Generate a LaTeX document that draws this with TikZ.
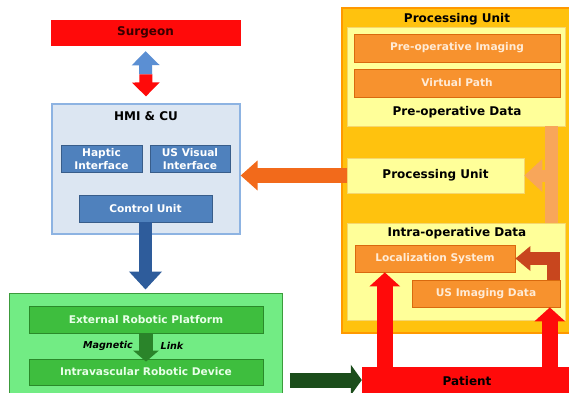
\documentclass[tikz,border=0pt]{standalone}
\usepackage{fontspec}
\setmainfont{DejaVu Sans}
\usetikzlibrary{arrows.meta,calc}
\definecolor{cRed}{HTML}{FF0A0A}
\definecolor{cDarkRed}{HTML}{3A0000}
\definecolor{cBlueLight}{HTML}{5B8FD3}
\definecolor{cHmiFill}{HTML}{DCE6F2}
\definecolor{cHmiDraw}{HTML}{8DB3E2}
\definecolor{cBlueBox}{HTML}{4F81BD}
\definecolor{cBlueBoxDraw}{HTML}{385D8A}
\definecolor{cDarkBlue}{HTML}{2E5C9B}
\definecolor{cGreenOuter}{HTML}{72EC84}
\definecolor{cGreenOuterDraw}{HTML}{3C9B3C}
\definecolor{cGreenBox}{HTML}{3EBE3E}
\definecolor{cGreenBoxDraw}{HTML}{2A8A2A}
\definecolor{cGreenText}{HTML}{E8FFE8}
\definecolor{cMagArrow}{HTML}{2A842A}
\definecolor{cDarkGreen}{HTML}{1B4D1B}
\definecolor{cOrangeOuter}{HTML}{FFC20E}
\definecolor{cOrangeOuterDraw}{HTML}{FF9900}
\definecolor{cYellow}{HTML}{FFFF99}
\definecolor{cYellowDraw}{HTML}{F5D76E}
\definecolor{cOrangeBox}{HTML}{F7922E}
\definecolor{cOrangeBoxDraw}{HTML}{D9690E}
\definecolor{cOrangeText}{HTML}{FFEBD6}
\definecolor{cOrangeArrow}{HTML}{F26A1B}
\definecolor{cLightOrange}{HTML}{F8A65A}
\definecolor{cElbow}{HTML}{C8461E}
\tikzset{
  titlefont/.style={font=\bfseries\fontsize{12}{14}\selectfont},
  boxfont/.style={font=\bfseries\fontsize{10.6}{13.5}\selectfont},
  plainbox/.style={rectangle, inner sep=0pt, align=center},
  redbox/.style={plainbox, draw=cRed, fill=cRed, text=cDarkRed, titlefont},
  hmibox/.style={plainbox, draw=cHmiDraw, line width=1.2pt, fill=cHmiFill},
  bluebox/.style={plainbox, draw=cBlueBoxDraw, line width=0.8pt, fill=cBlueBox, text=white, boxfont},
  greenouter/.style={plainbox, draw=cGreenOuterDraw, line width=1pt, fill=cGreenOuter},
  greenbox/.style={plainbox, draw=cGreenBoxDraw, line width=0.8pt, fill=cGreenBox, text=cGreenText, boxfont},
  orangeouter/.style={plainbox, draw=cOrangeOuterDraw, line width=1.5pt, fill=cOrangeOuter},
  yellowbox/.style={plainbox, draw=cYellowDraw, line width=0.8pt, fill=cYellow},
  orangebox/.style={plainbox, draw=cOrangeBoxDraw, line width=0.8pt, fill=cOrangeBox, text=cOrangeText, boxfont},
  titletext/.style={inner sep=0pt, text=black, titlefont},
  fat/.style={line width=#1, line cap=butt},
}
\begin{document}
\begin{tikzpicture}[x=1pt,y=-1pt]
\useasboundingbox (0,0) rectangle (569,392);
\fill[white] (0,0) rectangle (569,392);

% ---------- left column ----------
\node[redbox, minimum width=189pt, minimum height=25pt] (surgeon) at (145.5,32.5) {Surgeon};

\node[hmibox, minimum width=188pt, minimum height=130pt] (hmi) at (146,169) {};
\node[titletext] (hmititle) at (146,116) {HMI \& CU};
\node[bluebox, minimum width=81pt, minimum height=27pt] (haptic) at (101.5,159) {Haptic\\Interface};
\node[bluebox, minimum width=80pt, minimum height=27pt] (usvis) at (190,159) {US Visual\\Interface};
\node[bluebox, minimum width=133pt, minimum height=27pt] (control) at (145.5,208.5) {Control Unit};

\node[greenouter, minimum width=273pt, minimum height=106pt] (green) at (145.5,346) {};
\node[greenbox, minimum width=234pt, minimum height=27pt] (ext) at (146,319.5) {External Robotic Platform};
\node[greenbox, minimum width=234pt, minimum height=26pt] (intra) at (146,372) {Intravascular Robotic Device};
\node[inner sep=0pt, font=\bfseries\itshape\fontsize{9.6}{11}\selectfont] (maglabel) at (108,346) {Magnetic};
\node[inner sep=0pt, font=\bfseries\itshape\fontsize{9.6}{11}\selectfont] (linklabel) at (172,346) {Link};

% ---------- right column ----------
\node[orangeouter, minimum width=230pt, minimum height=325pt] (proc) at (457,170.5) {};
\node[titletext] (proctitle) at (457,19) {Processing Unit};

\node[yellowbox, minimum width=218pt, minimum height=99pt] (preop) at (456,76.5) {};
\node[orangebox, minimum width=206pt, minimum height=28pt] (preimg) at (457,48) {Pre-operative Imaging};
\node[orangebox, minimum width=206pt, minimum height=28pt] (vpath) at (457,83) {Virtual Path};
\node[titletext] (preoptitle) at (457,112) {Pre-operative Data};

\node[yellowbox, minimum width=177pt, minimum height=35pt, titlefont] (pu) at (435.5,175.5) {Processing Unit};

\node[yellowbox, minimum width=218pt, minimum height=97pt] (intraop) at (456,271.5) {};
\node[titletext] (intraoptitle) at (457,233) {Intra-operative Data};
\node[orangebox, minimum width=160pt, minimum height=27pt] (loc) at (435,258.5) {Localization System};
\node[orangebox, minimum width=148pt, minimum height=27pt] (usimg) at (486,293.5) {US Imaging Data};

\node[redbox, text=black, minimum width=210pt, minimum height=28pt] (patient) at (467,381) {Patient};

% ---------- connectors ----------
\coordinate (mid) at ($(surgeon.south)!0.5!(hmi.north)$);
\draw[fat=13pt, cBlueLight, -{Triangle[width=27pt,length=14pt]}, shorten >=6pt] (mid) -- (surgeon.south);
\draw[fat=13pt, cRed, -{Triangle[width=27pt,length=14pt]}, shorten >=7pt] (mid) -- (hmi.north);

\draw[fat=13pt, cDarkBlue, -{Triangle[width=32pt,length=18pt]}, shorten >=3pt] (control.south) -- (control.south |- green.north);

\draw[fat=14pt, cMagArrow, -{Triangle[width=25pt,length=11pt]}, shorten >=-3pt] (ext.south) -- (intra.north);

\draw[fat=15pt, cOrangeArrow, -{Triangle[width=29pt,length=17pt]}] (pu.west) -- (pu.west -| hmi.east);

\coordinate (lb1) at ($(preop.south east)+(-14,0)$);
\coordinate (lb2) at ($(intraop.north east)+(-14,0)$);
\draw[fat=13pt, cLightOrange] (lb1) -- (lb2);
\draw[fat=12pt, cLightOrange, -{Triangle[width=32pt,length=18pt]}] (lb1 |- pu.east) -- (pu.east);

\coordinate (el) at ($(usimg.north east)+(-7,0)$);
\draw[fat=13pt, cElbow, -{Triangle[width=24pt,length=15pt]}] (el) |- (loc.east);

\coordinate (r1) at ($(patient.north west)+(23,0)$);
\coordinate (r2) at ($(patient.north west)+(188,0)$);
\draw[fat=16pt, cRed, -{Triangle[width=30pt,length=14pt]}] (r1) -- (r1 |- loc.south);
\draw[fat=16pt, cRed, -{Triangle[width=30pt,length=14pt]}] (r2) -- (r2 |- usimg.south);

\coordinate (gstart) at ($(patient.west)+(-72,-1)$);
\draw[fat=15pt, cDarkGreen, -{Triangle[width=30pt,length=11pt]}] (gstart) -- (gstart -| patient.west);
\end{tikzpicture}
\end{document}
